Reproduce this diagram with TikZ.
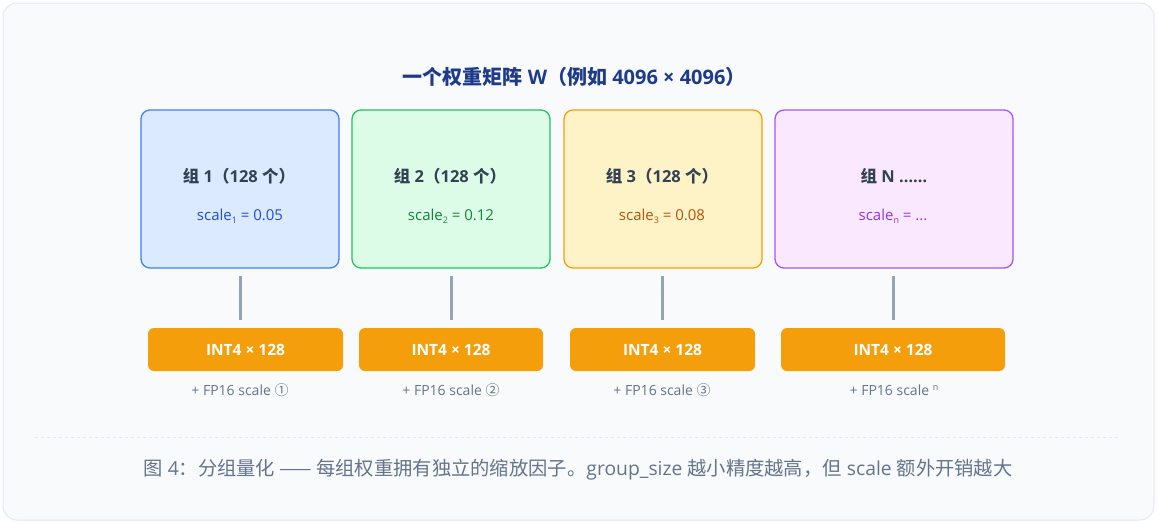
\documentclass[tikz,border=0pt]{standalone}
\usepackage{fontspec}
\setmainfont{Open Sans}
\newfontfamily\zhfont{Noto Sans CJK SC}
\newcommand{\zh}[1]{{\zhfont #1}}
\definecolor{bgfill}{HTML}{F8FAFC}
\definecolor{bgline}{HTML}{E2E8F0}
\definecolor{titlec}{HTML}{1E3A8A}
\definecolor{labelc}{HTML}{334155}
\definecolor{mutedc}{HTML}{64748B}
\definecolor{connc}{HTML}{94A3B8}
\definecolor{orangef}{HTML}{F59E0B}
\definecolor{bluef}{HTML}{DBEAFE}\definecolor{bluel}{HTML}{3B82F6}\definecolor{bluet}{HTML}{1D4ED8}
\definecolor{greenf}{HTML}{DCFCE7}\definecolor{greenl}{HTML}{22C55E}\definecolor{greent}{HTML}{15803D}
\definecolor{yellowf}{HTML}{FEF3C7}\definecolor{yellowl}{HTML}{F59E0B}\definecolor{yellowt}{HTML}{B45309}
\definecolor{purplef}{HTML}{FAE8FF}\definecolor{purplel}{HTML}{A855F7}\definecolor{purplet}{HTML}{9333EA}
\newcommand{\fsz}[1]{\fontsize{#1pt}{#1pt}\selectfont}
\newcommand{\subx}[1]{\raisebox{-0.35ex}{\fontsize{9pt}{9pt}\selectfont #1}}
\begin{document}
\begin{tikzpicture}[x=1pt,y=-1pt,
  groupbox/.style={draw, line width=1.3pt, rounded corners=9pt, minimum width=198pt, minimum height=158pt, inner sep=0pt},
  grouplabel/.style={text=labelc, font=\fsz{16.5}\bfseries},
  scalelabel/.style={font=\fsz{15}},
  intbox/.style={fill=orangef, rounded corners=6pt, minimum height=43pt, inner sep=0pt, text=white, font=\fsz{15.5}\bfseries},
  fpcap/.style={text=mutedc, font=\fsz{14}},
  conn/.style={draw=connc, line width=3pt}]
\useasboundingbox (0,0) rectangle (1158,523);
\draw[fill=bgfill, draw=bgline, line width=1pt, rounded corners=14pt] (3,3) rectangle (1154,520);
\node[text=titlec, font=\fsz{20}\bfseries] (title) at (574,77) {\zh{一个权重矩阵} W\zh{（例如} 4096 × 4096\zh{）}};
% group boxes
\node[groupbox, fill=bluef, draw=bluel] (g1) at (240,189) {};
\node[groupbox, fill=greenf, draw=greenl] (g2) at (451,189) {};
\node[groupbox, fill=yellowf, draw=yellowl] (g3) at (663,189) {};
\node[groupbox, fill=purplef, draw=purplel, minimum width=238pt] (g4) at (894,189) {};
\node[grouplabel] (l1) at (239,176) {\zh{组} 1\zh{（}128 \zh{个）}};
\node[grouplabel] (l2) at (450,176) {\zh{组} 2\zh{（}128 \zh{个）}};
\node[grouplabel] (l3) at (662,176) {\zh{组} 3\zh{（}128 \zh{个）}};
\node[grouplabel] (l4) at (894,176) {\zh{组} N ……};
\node[scalelabel, text=bluet] (s1) at (240,216) {scale\subx{1} = 0.05};
\node[scalelabel, text=greent] (s2) at (451,216) {scale\subx{2} = 0.12};
\node[scalelabel, text=yellowt] (s3) at (662,216) {scale\subx{3} = 0.08};
\node[scalelabel, text=purplet] (s4) at (893,216) {scale\subx{n} = ...};
% int boxes
\node[intbox, minimum width=195pt] (o1) at (245.5,349.5) {INT4 × 128};
\node[intbox, minimum width=184pt] (o2) at (451,349.5) {INT4 × 128};
\node[intbox, minimum width=185pt] (o3) at (662.5,349.5) {INT4 × 128};
\node[intbox, minimum width=224pt] (o4) at (893,349.5) {INT4 × 128};
% connectors
\draw[conn] ([yshift=-7pt]g1.south) -- ([yshift=8pt]g1.south |- o1.north);
\draw[conn] ([yshift=-7pt]g2.south) -- ([yshift=8pt]g2.south |- o2.north);
\draw[conn] ([xshift=-1pt,yshift=-7pt]g3.south) -- ([xshift=-1pt,yshift=8pt]g3.south |- o3.north);
\draw[conn] ([xshift=-1pt,yshift=-7pt]g4.south) -- ([xshift=-1pt,yshift=8pt]g4.south |- o4.north);
% captions
\node[fpcap] (c1) at (240,390) {+ FP16 scale \zh{①}};
\node[fpcap] (c2) at (451,390) {+ FP16 scale \zh{②}};
\node[fpcap] (c3) at (662,390) {+ FP16 scale \zh{③}};
\node[fpcap] (c4) at (894,390) {+ FP16 scale \raisebox{0.6ex}{\fontsize{9pt}{9pt}\selectfont n}};
% separator
\draw[bgline, dashed, line width=0.8pt] (35,437) coordinate (sepa) -- (1120,437) coordinate (sepb);
\node[text=mutedc, font=\fsz{19.3}] (cap) at (578,470) {\zh{图} 4\zh{：分组量化 —— 每组权重拥有独立的缩放因子。}group\_size \zh{越小精度越高，但} scale \zh{额外开销越大}};
\end{tikzpicture}
\end{document}
